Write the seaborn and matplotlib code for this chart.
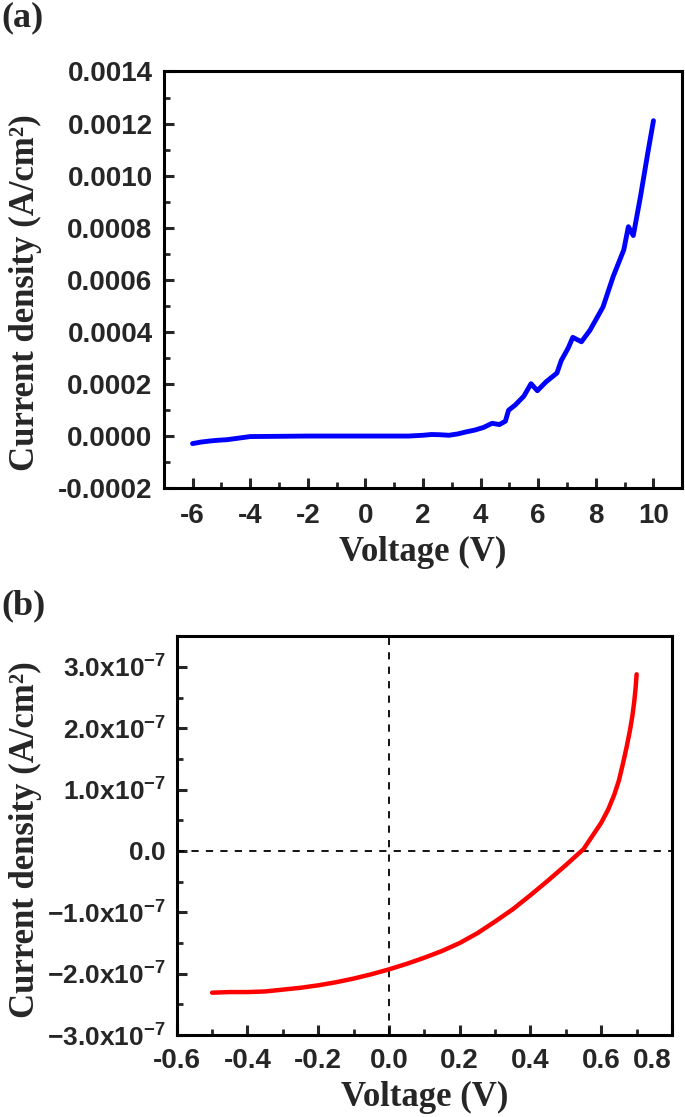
import matplotlib
matplotlib.use('Agg')
import matplotlib.pyplot as plt
import matplotlib.ticker as mticker
import pandas as pd
import seaborn as sns

# (a) dados de J-V em larga faixa
volt_a = [-6.0, -5.7, -5.4, -5.1, -4.8, -4.4, -4.0, -3.0, -2.0, -1.0, 0.0, 1.0, 1.5,
          2.0, 2.3, 2.6, 2.9, 3.2, 3.5, 3.8, 4.1, 4.4, 4.65, 4.86, 4.97, 5.2, 5.5,
          5.75, 5.97, 6.27, 6.65, 6.8, 7.04, 7.2, 7.5, 7.8, 8.25, 8.6, 8.97, 9.13,
          9.3, 9.55, 9.8, 10.0]
dens_a = [-2.9e-5, -2.3e-5, -1.9e-5, -1.6e-5, -1.4e-5, -8e-6, -2e-6, -1e-6, 0.0, 0.0,
          0.0, 0.0, 0.0, 3e-6, 6e-6, 5e-6, 3e-6, 8e-6, 1.6e-5, 2.3e-5, 3.3e-5, 4.9e-5,
          4.4e-5, 5.7e-5, 9.9e-5, 1.19e-4, 1.53e-4, 2.01e-4, 1.74e-4, 2.08e-4,
          2.42e-4, 2.9e-4, 3.38e-4, 3.79e-4, 3.62e-4, 4.07e-4, 4.96e-4, 6.12e-4,
          7.15e-4, 8.04e-4, 7.7e-4, 9.2e-4, 1.085e-3, 1.211e-3]

# (b) dados de J-V perto de zero
volt_b = [-0.50, -0.45, -0.40, -0.35, -0.30, -0.25, -0.20, -0.15, -0.10, -0.05, 0.0,
          0.05, 0.10, 0.15, 0.20, 0.25, 0.30, 0.35, 0.40, 0.45, 0.50, 0.55, 0.60,
          0.62, 0.637, 0.65, 0.662, 0.672, 0.681, 0.688, 0.693, 0.697, 0.70]
dens_b = [-2.31e-7, -2.30e-7, -2.30e-7, -2.29e-7, -2.26e-7, -2.23e-7, -2.19e-7,
          -2.14e-7, -2.08e-7, -2.01e-7, -1.93e-7, -1.84e-7, -1.74e-7, -1.63e-7,
          -1.50e-7, -1.34e-7, -1.15e-7, -0.95e-7, -0.72e-7, -0.48e-7, -0.23e-7,
          0.03e-7, 0.46e-7, 0.68e-7, 0.92e-7, 1.15e-7, 1.44e-7, 1.70e-7, 1.96e-7,
          2.20e-7, 2.42e-7, 2.65e-7, 2.88e-7]

xticks_b = [-0.6, -0.4, -0.2, 0.0, 0.2, 0.4, 0.6, 0.8]
yticks_b = [-3e-7, -2e-7, -1e-7, 0, 1e-7, 2e-7, 3e-7]

df_a = pd.DataFrame({'V': volt_a, 'J': dens_a})
df_b = pd.DataFrame({'V': volt_b, 'J': dens_b})

sns.set_style('ticks')
plt.rcParams['font.family'] = ['Liberation Sans', 'DejaVu Sans']
plt.rcParams['font.weight'] = 'bold'
plt.rcParams['axes.unicode_minus'] = False
plt.rcParams['mathtext.fontset'] = 'custom'
plt.rcParams['mathtext.rm'] = 'Liberation Sans:bold'
plt.rcParams['mathtext.it'] = 'Liberation Sans:bold'
plt.rcParams['mathtext.bf'] = 'Liberation Sans:bold'
plt.rcParams['mathtext.default'] = 'rm'

fig = plt.figure(figsize=(6.85, 11.17), dpi=100)
ax1 = fig.add_axes([0.239, 0.563, 0.757, 0.373])
ax2 = fig.add_axes([0.258, 0.0734, 0.723, 0.357])

label_font = dict(family=['Liberation Serif', 'DejaVu Serif'], weight='bold', size=25)
panel_font = dict(family=['Liberation Serif', 'DejaVu Serif'], weight='bold', size=26)


def style_axis(ax, xpad, ypad):
    for side in ['top', 'right']:
        ax.spines[side].set_visible(True)
    for s in ax.spines.values():
        s.set_linewidth(2.2)
        s.set_color('black')
    ax.tick_params(which='major', direction='in', length=7, width=2.2,
                   labelsize=20, top=False, right=False)
    ax.tick_params(which='minor', direction='in', length=4, width=2.0,
                   top=False, right=False)
    ax.tick_params(axis='x', which='major', pad=xpad)
    ax.tick_params(axis='y', which='major', pad=ypad)
    for lab in ax.get_xticklabels() + ax.get_yticklabels():
        lab.set_fontweight('bold')


# painel (a)
sns.lineplot(data=df_a, x='V', y='J', ax=ax1, color='#0000ff', linewidth=3.5, sort=False)
ax1.set_xlim(-7, 11)
ax1.set_ylim(-0.0002, 0.0014)
ax1.xaxis.set_major_locator(mticker.MultipleLocator(2))
ax1.xaxis.set_minor_locator(mticker.MultipleLocator(1))
ax1.yaxis.set_major_locator(mticker.MultipleLocator(0.0002))
ax1.yaxis.set_minor_locator(mticker.MultipleLocator(0.0001))
ax1.yaxis.set_major_formatter(mticker.FormatStrFormatter('%.4f'))
ax1.set_xlabel('Voltage (V)', fontdict=label_font)
ax1.set_ylabel('Current density (A/cm²)', fontdict=label_font)
style_axis(ax1, 11, 8)
ax1.xaxis.set_label_coords(0.5, -0.115)
ax1.yaxis.set_label_coords(-0.235, 0.47)

# painel (b)
sns.lineplot(data=df_b, x='V', y='J', ax=ax2, color='#ff0000', linewidth=3.2, sort=False)
ax2.axhline(0, color='black', linestyle=(0, (4, 4)), linewidth=1.3, zorder=1)
ax2.axvline(0, color='black', linestyle=(0, (4, 4)), linewidth=1.3, zorder=1)
ax2.set_xlim(-0.6, 0.8)
ax2.set_ylim(-3e-7, 3.5e-7)
ax2.xaxis.set_major_locator(mticker.FixedLocator(xticks_b))
ax2.xaxis.set_minor_locator(mticker.MultipleLocator(0.1))
ax2.yaxis.set_major_locator(mticker.FixedLocator(yticks_b))
ax2.yaxis.set_minor_locator(mticker.MultipleLocator(0.5e-7))


def fmt_b(v, pos):
    if abs(v) < 1e-12:
        return '0.0'
    return r'$%.1f\mathrm{x}10^{-7}$' % (v / 1e-7)


ax2.yaxis.set_major_formatter(mticker.FuncFormatter(fmt_b))
ax2.xaxis.set_major_formatter(mticker.FormatStrFormatter('%.1f'))
ax2.set_xlabel('Voltage (V)', fontdict=label_font)
ax2.set_ylabel('Current density (A/cm²)', fontdict=label_font)
style_axis(ax2, 9, 8)
ax2.tick_params(axis='y', which='major', labelsize=19)
ax2.xaxis.set_label_coords(0.5, -0.114)
ax2.yaxis.set_label_coords(-0.272, 0.49)

# o rótulo 0.8 fica alinhado à direita, como no original
fig.canvas.draw()
for lab in ax2.get_xticklabels():
    if lab.get_text() == '0.8':
        lab.set_horizontalalignment('right')
        lab.set_x(0.8)

fig.text(0.002, 0.999, '(a)', ha='left', va='top', **panel_font)
fig.text(0.002, 0.472, '(b)', ha='left', va='top', **panel_font)

fig.savefig('out.png', dpi=100)
